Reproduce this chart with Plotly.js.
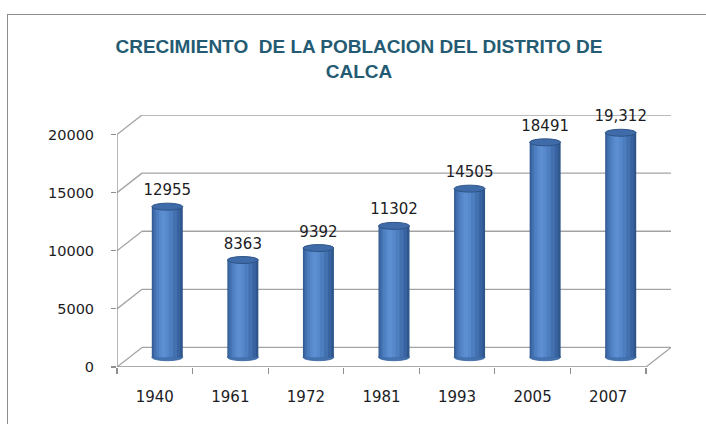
<!DOCTYPE html>
<html>
<head>
<meta charset="utf-8">
<script src="https://cdn.plot.ly/plotly-3.0.1.min.js"></script>
<style>
  html, body { margin: 0; padding: 0; width: 706px; height: 424px; overflow: hidden; background: #fff; }
  #chart { position: absolute; left: 0; top: 0; width: 706px; height: 424px; }
  #frame { position: absolute; left: 7px; top: 14px; width: 760px; height: 480px;
           border: 1px solid #8c8c8c; pointer-events: none; }
</style>
</head>
<body>
<div id="chart"></div>
<div id="frame"></div>
<script>
// ---- data ----
const years = ["1940", "1961", "1972", "1981", "1993", "2005", "2007"];
const population = [12955, 8363, 9392, 11302, 14505, 18491, 19312];
const valueLabels = ["12955", "8363", "9392", "11302", "14505", "18491", "19,312"];
const yTickVals = [0, 5000, 10000, 15000, 20000];
const yTickText = ["0", "5000", "10000", "15000", "20000"];
const chartTitle = "CRECIMIENTO\u00a0 DE LA POBLACION DEL DISTRITO DE<br>CALCA";

// ---- 3D look parameters (depth of the box, in axis units) ----
const DX = 0.331;       // depth offset along x (category units)
const DY = 1680;        // depth offset along y (value units)
const BX = DX / 2;      // bars stand on the middle plane
const BY = DY / 2;
const W = 0.41;         // cylinder width
const CAP = 300;        // half height of the elliptic caps
const LABEL_GAP = 380;  // extra room between cap and value label
const nCat = years.length;
const yMax = yTickVals[yTickVals.length - 1];

// cylinder shading layers: [relative width, relative centre shift, colour]
const layers = [
  [1.00, 0.00, "#2f568b"],
  [0.90, -0.03, "#3963a0"],
  [0.74, -0.06, "#4371b0"],
  [0.54, -0.09, "#4d7ebf"],
  [0.32, -0.11, "#5788cb"],
  [0.14, -0.12, "#5c8ed2"]
];

const traces = layers.map((l) => {
  const w = W * l[0];
  return {
    type: "bar",
    x: years,
    y: population,
    base: BY,
    width: w,
    offset: BX + l[1] * W - w / 2,
    marker: { color: l[2], line: { width: 0 } },
    hoverinfo: "skip",
    showlegend: false,
    cliponaxis: false
  };
});

// invisible carrier for the value labels
traces.push({
  type: "bar",
  x: years,
  y: population,
  base: BY + LABEL_GAP,
  width: W,
  offset: BX - W / 2,
  marker: { color: "rgba(0,0,0,0)", line: { width: 0 } },
  text: valueLabels,
  textposition: "outside",
  constraintext: "none",
  textangle: 0,
  outsidetextfont: { family: "DejaVu Sans, Verdana, sans-serif", size: 15, color: "#1c1c24" },
  hoverinfo: "skip",
  showlegend: false,
  cliponaxis: false
});

// ---- decoration shapes (box walls, grid, caps) ----
const grid = "#a3a3a3";
const shapes = [];
yTickVals.forEach(v => {
  shapes.push({ type: "line", layer: "below", xref: "x", yref: "y",
    x0: -0.5 + DX, y0: v + DY, x1: nCat - 0.5 + DX, y1: v + DY,
    line: { color: grid, width: 1.3 } });
  shapes.push({ type: "line", layer: "below", xref: "x", yref: "y",
    x0: -0.5, y0: v, x1: -0.5 + DX, y1: v + DY,
    line: { color: grid, width: 1.3 } });
});
shapes.push({ type: "line", layer: "below", xref: "x", yref: "y",
  x0: nCat - 0.5, y0: 0, x1: nCat - 0.5 + DX, y1: DY, line: { color: grid, width: 1.3 } });
shapes.push({ type: "line", layer: "below", xref: "x", yref: "y",
  x0: -0.5, y0: 0, x1: nCat - 0.5, y1: 0, line: { color: "#8f8f8f", width: 1.3 } });
shapes.push({ type: "line", layer: "below", xref: "x", yref: "y",
  x0: -0.5, y0: 0, x1: -0.5, y1: yMax, line: { color: "#8f8f8f", width: 1.3 } });

population.forEach((v, i) => {
  shapes.push({ type: "circle", layer: "below", xref: "x", yref: "y",
    x0: i + BX - W / 2, x1: i + BX + W / 2, y0: BY - CAP, y1: BY + CAP,
    fillcolor: "#4573b0", line: { color: "#3a64a0", width: 0.8 } });
  shapes.push({ type: "circle", layer: "above", xref: "x", yref: "y",
    x0: i + BX - W / 2, x1: i + BX + W / 2, y0: v + BY - CAP, y1: v + BY + CAP,
    fillcolor: "#3f6ca8", line: { color: "#2d5387", width: 1 } });
});

const layout = {
  width: 706,
  height: 424,
  margin: { l: 117, r: 35, t: 115, b: 57, pad: 0 },
  paper_bgcolor: "rgba(0,0,0,0)",
  plot_bgcolor: "rgba(0,0,0,0)",
  barmode: "overlay",
  showlegend: false,
  title: {
    text: chartTitle,
    x: 0.5085, xref: "container", xanchor: "center",
    y: 0.874, yref: "container", yanchor: "middle",
    font: { family: "Liberation Sans, Arial, sans-serif", size: 19, color: "#245b73", weight: 700 }
  },
  xaxis: {
    type: "category",
    range: [-0.5, nCat - 0.5 + DX],
    tickson: "boundaries",
    ticks: "outside",
    ticklen: 6,
    tickwidth: 1.2,
    tickcolor: "#8f8f8f",
    ticklabelstandoff: 19,
    showgrid: false,
    zeroline: false,
    showline: false,
    tickfont: { family: "DejaVu Sans, Verdana, sans-serif", size: 15, color: "#1c1c24" },
    fixedrange: true
  },
  yaxis: {
    range: [0, yMax + DY],
    tickmode: "array",
    tickvals: yTickVals,
    ticktext: yTickText,
    ticks: "outside",
    ticklen: 5,
    tickwidth: 1.2,
    tickcolor: "#8f8f8f",
    ticklabelstandoff: 14,
    showgrid: false,
    zeroline: false,
    showline: false,
    tickfont: { family: "DejaVu Sans, Verdana, sans-serif", size: 14.5, color: "#1c1c24" },
    fixedrange: true
  },
  shapes: shapes
};

Plotly.newPlot("chart", traces, layout, { staticPlot: true, displayModeBar: false });
</script>
</body>
</html>
